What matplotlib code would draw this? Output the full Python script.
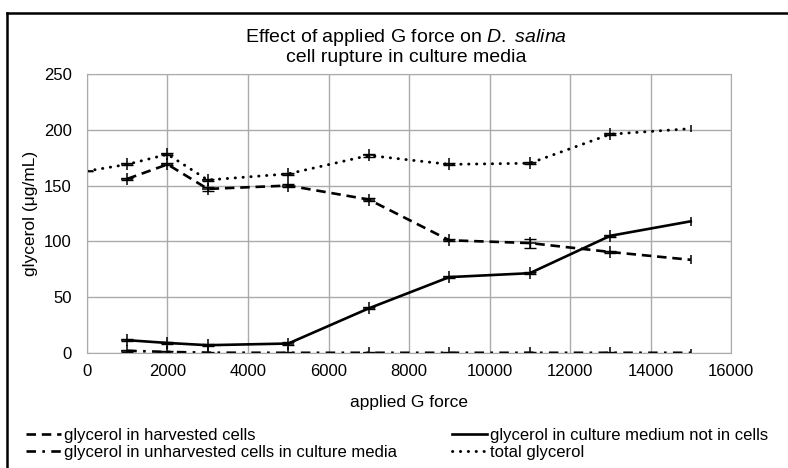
import matplotlib.pyplot as plt
from matplotlib.lines import Line2D

plt.rcParams['font.family'] = ['Liberation Sans', 'DejaVu Sans']
plt.rcParams['mathtext.fontset'] = 'custom'
plt.rcParams['mathtext.rm'] = 'Liberation Sans'
plt.rcParams['mathtext.it'] = 'Liberation Sans:italic'

g_force = [1000, 2000, 3000, 5000, 7000, 9000, 11000, 13000, 15000]
harvested = [156, 169, 147, 150, 137.5, 101, 98.5, 90.5, 83.5]
harvested_err = [1, 1, 2, 1, 1, 1, 4, 1, 4]
medium = [11.5, 9, 7, 8.5, 40, 68, 71.5, 105, 118]
medium_err = [1, 1, 1, 1, 1, 1, 1, 1, 4]
unharvested = [2, 1, 0.3, 0.2, 0.2, 0.2, 0.2, 0.2, 0.2]
unharvested_err = [1, 1, 1, 1, 1, 1, 1, 1, 3]
total_x = [0, 1000, 2000, 3000, 5000, 7000, 9000, 11000, 13000, 15000]
total = [163, 169, 178, 155, 160.5, 177, 169, 170, 196, 201]
total_err = [0, 1, 1, 1, 1, 1, 1, 1, 1, 3]

fig = plt.figure(figsize=(7.88, 4.68), dpi=100)
ax = fig.add_axes([0.1104, 0.2457, 0.8173, 0.5963])

series = [
    (g_force, harvested, harvested_err, (0, (3.6, 2.2)), 'glycerol in harvested cells'),
    (g_force, unharvested, unharvested_err, (0, (3.6, 2.4, 1.0, 2.4)), 'glycerol in unharvested cells in culture media'),
    (g_force, medium, medium_err, '-', 'glycerol in culture medium not in cells'),
    (total_x, total, total_err, (0, (0.1, 2.6)), 'total glycerol'),
]

handles = []
for xs, ys, es, ls, label in series:
    dotted = label == 'total glycerol'
    line, = ax.plot(xs, ys, color='black', lw=2.1 if dotted else 1.9, linestyle=ls,
                    dash_capstyle='round' if dotted else 'butt', label=label)
    handles.append(line)
    ax.plot(xs[:-1], ys[:-1], linestyle='none', marker='+', ms=9, mew=1.1, color='black')
    ax.errorbar(xs[:-1], ys[:-1], yerr=es[:-1], fmt='none', ecolor='black',
                elinewidth=1, capsize=4, capthick=1)
    ax.errorbar(xs[-1:], ys[-1:], yerr=es[-1:], fmt='none', ecolor='black',
                elinewidth=1.1, capsize=0)

ax.set_xlim(0, 16000)
ax.set_ylim(0, 250)
ax.set_xticks(range(0, 16001, 2000))
ax.set_yticks(range(0, 251, 50))
ax.grid(True, color='#ababab', lw=1)
ax.set_axisbelow(True)
for s in ax.spines.values():
    s.set_color('#ababab')
ax.tick_params(length=0, labelsize=12)
ax.tick_params(axis='x', pad=8)
ax.tick_params(axis='y', pad=11)

fig.text(406 / 788, 1 - 42 / 468, 'Effect of applied G force on $\\it{D.\\ salina}$',
         ha='center', va='baseline', fontsize=14)
fig.text(406 / 788, 1 - 62 / 468, 'cell rupture in culture media',
         ha='center', va='baseline', fontsize=14)
fig.text(409 / 788, 1 - 403 / 468, 'applied G force', ha='center', va='center', fontsize=12.5)
fig.text(30 / 788, 1 - 213 / 468, 'glycerol (\u03bcg/mL)', ha='center', va='center',
         rotation=90, fontsize=12.5)

legend_opts = dict(loc='upper left', frameon=False, fontsize=12, handlelength=2.1,
                   handletextpad=0.2, labelspacing=0.1, borderaxespad=0, borderpad=0)
fig.legend(handles=handles[:2], bbox_to_anchor=(26 / 788, 1 - 428 / 468), **legend_opts)
fig.legend(handles=handles[2:], bbox_to_anchor=(452 / 788, 1 - 428 / 468), **legend_opts)

# frame: only the left and top edges show in the original
fig.add_artist(Line2D([7 / 788, 7 / 788], [0, 1 - 12.7 / 468], transform=fig.transFigure,
                      color='black', lw=1.8))
fig.add_artist(Line2D([7 / 788, 1], [1 - 12.7 / 468, 1 - 12.7 / 468], transform=fig.transFigure,
                      color='black', lw=1.8))

fig.savefig('out.png', dpi=100)
